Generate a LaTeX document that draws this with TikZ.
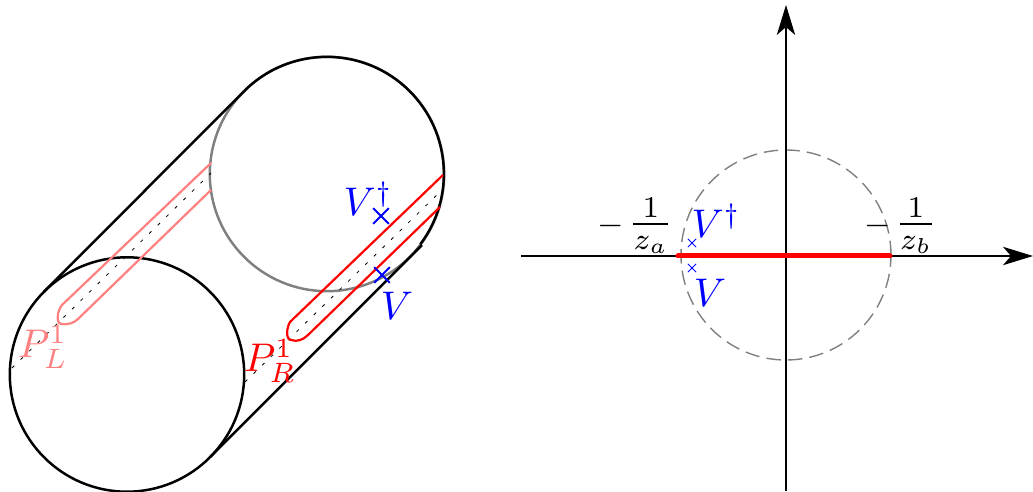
\documentclass[tikz,border=0pt]{standalone}
\usetikzlibrary{arrows.meta,shapes.misc}
\definecolor{pinkred}{RGB}{255,128,128}
\newcommand{\minusfrac}[1]{\scalebox{.85}{$-$}\hspace{1pt}\scalebox{1.06}[1.08]{$\frac{1}{z_{#1}}$}}
\tikzset{
  pic lbl/.style={inner sep=0,outer sep=0},
  disc/.style={circle,draw,inner sep=0,outer sep=0,minimum size=58.6pt,line width=.62pt},
  edge line/.style={draw=black,line width=.62pt},
  cut/.style={line width=.55pt,rounded corners=0},
  slit/.style={draw=black,line width=.2pt,dash pattern=on .8pt off 2.2pt},
  crossbig/.style={cross out,draw=blue,line width=.5pt,inner sep=0,outer sep=0,minimum size=3.9pt},
  crosssmall/.style={cross out,draw=blue,line width=.2pt,inner sep=0,outer sep=0,minimum size=2.1pt},
  axis/.style={draw=black,line width=.4pt,-{Stealth[length=7.5pt,width=4.6pt,inset=2pt]}},
}
\begin{document}
\begin{tikzpicture}[x=.25pt,y=-.25pt]
\useasboundingbox (0,0) rectangle (1033,492);
% back circle
\node[disc,draw=gray] (back) at (327,174) {};
\node[disc,draw=black] (front) at (127,374.5) {};
% tangents
\coordinate (lowend) at (422,245);
\draw[edge line] (front.135) -- (back.135);
\draw[edge line] (front.-45) -- (lowend);
\draw[edge line] (back.135) arc[start angle=-135,end angle=37,radius=117];
% left cut
\coordinate (dl1) at (12,368);
\coordinate (dl2) at (211,173);
\coordinate (dr1) at (245,382);
\coordinate (dr2) at (443,189);
\draw[slit] (dl1) -- (dl2);
\draw[slit] (dr1) -- (dr2);
\coordinate (pl1) at (211,163);
\coordinate (pl2) at (62,305);
\coordinate (pl3) at (78,319);
\coordinate (pl4) at (211,190);
\draw[cut,draw=pinkred] (pl1) -- (pl2) .. controls (57,311) and (56,323) .. (61,324) .. controls (68,325) and (74,323) .. (pl3) -- (pl4);
\coordinate (pr1) at (443,175);
\coordinate (pr2) at (290,322);
\coordinate (pr3) at (308,335);
\coordinate (pr4) at (440,207);
\draw[cut,draw=red] (pr1) -- (pr2) .. controls (287,327) and (285,339) .. (291,340) .. controls (297,342) and (303,340) .. (pr3) -- (pr4);
% labels left
\node[pic lbl,text=pinkred] (PL) at (43,347) {$P_L^1$};
\node[pic lbl,text=red] (PR) at (270,361) {$P_R^1$};
\node[crossbig] (cVd) at (381,216) {};
\node[crossbig] (cV) at (382,275) {};
\node[pic lbl,text=blue] (lVd) at (368,199) {$V^\dagger$};
\node[pic lbl,text=blue] (lV) at (397,306) {$V$};
% right figure
\node[circle,draw=gray,dash pattern=on 3.6pt off 1.8pt,line width=.35pt,inner sep=0,outer sep=0,minimum size=52.5pt] (unit) at (786,255) {};
\coordinate (xa) at (521,256);
\coordinate (xb) at (1033,256);
\coordinate (ya) at (786,491);
\coordinate (yb) at (786,5);
\path[axis] (xa) -- (xb);
\path[axis] (ya) -- (yb);
\coordinate (ra) at (678,256);
\coordinate (rb) at (890,256);
\draw[red,line width=1.25pt,line cap=round] (ra) -- (rb);
\node[crosssmall] (c2) at (692,243) {};
\node[crosssmall] (c1) at (692,268) {};
\node[pic lbl,text=blue] (l2) at (716,221) {$V^\dagger$};
\node[pic lbl,text=blue] (l1) at (710,293) {$V$};
\node[pic lbl] (za) at (635.5,226) {\minusfrac{a}};
\node[pic lbl] (zb) at (900.5,226) {\minusfrac{b}};
\end{tikzpicture}
\end{document}
